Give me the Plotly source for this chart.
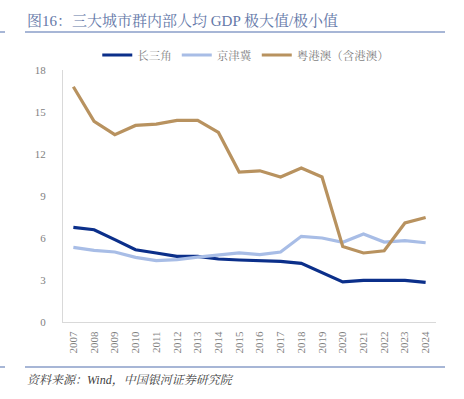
import plotly.graph_objects as go

years = [str(y) for y in range(2007, 2025)]
yrd = [6.76, 6.59, 5.88, 5.16, 4.93, 4.69, 4.69, 4.50, 4.43, 4.36, 4.33, 4.19, 3.55, 2.86, 2.97, 2.97, 2.97, 2.83]
jjj = [5.33, 5.12, 5.00, 4.62, 4.38, 4.45, 4.64, 4.81, 4.93, 4.81, 5.00, 6.12, 6.00, 5.69, 6.29, 5.71, 5.81, 5.66]
gba = [16.8, 14.33, 13.38, 14.04, 14.14, 14.40, 14.40, 13.54, 10.71, 10.80, 10.36, 11.00, 10.36, 5.40, 4.93, 5.09, 7.07, 7.47]
names = ["长三角", "京津冀", "粤港澳（含港澳）"]
colors = ["#0b2f8a", "#a8bde6", "#b8925f"]
y_ticks = [0, 3, 6, 9, 12, 15, 18]

W, H = 464, 399
L, R, T, B = 63, 436, 70, 322

def px(x):
    return (x - L) / (R - L)

def py(y):
    return (B - y) / (B - T)

fig = go.Figure()
for n, v, c in zip(names, [yrd, jjj, gba], colors):
    fig.add_trace(go.Scatter(x=years, y=v, name=n, mode="lines",
                             line=dict(color=c, width=3.2)))

cjk = "Liberation Serif, Noto Serif CJK SC, Noto Sans CJK SC, serif"

fig.update_layout(
    width=W, height=H,
    margin=dict(l=L, r=W - R, t=T, b=H - B, pad=0),
    paper_bgcolor="white", plot_bgcolor="white",
    font=dict(family=cjk, color="#7f7f7f", size=11),
    showlegend=True,
    legend=dict(orientation="h", x=0.49, y=py(55), xanchor="center", yanchor="middle",
                font=dict(size=11.5, color="#7f7f7f", family=cjk),
                itemwidth=30, tracegroupgap=0, bgcolor="rgba(0,0,0,0)"),
    xaxis=dict(type="category", range=[-0.5, len(years) - 0.5], showgrid=False,
               showline=True, linecolor="#d9d9d9", linewidth=1, tickangle=-90,
               ticks="", tickfont=dict(size=11, color="#7f7f7f", family=cjk),
               ticklabelstandoff=4, zeroline=False),
    yaxis=dict(range=[0, 18], tickvals=y_ticks, showgrid=False, showline=True,
               linecolor="#d9d9d9", linewidth=1, ticks="",
               tickfont=dict(size=11, color="#7f7f7f", family=cjk),
               ticklabelstandoff=14, zeroline=False),
)

fig.add_annotation(text="图16：三大城市群内部人均 GDP 极大值/极小值", xref="paper", yref="paper",
                   x=px(25), y=py(20), xanchor="left", yanchor="middle", showarrow=False,
                   font=dict(size=15, color="#6478a8", family=cjk))
fig.add_annotation(text="<i>资料来源：Wind，中国银河证券研究院</i>", xref="paper", yref="paper",
                   x=px(25), y=py(380), xanchor="left", yanchor="middle", showarrow=False,
                   font=dict(size=12, color="#404040", family=cjk))

for yy in [32, 367]:
    fig.add_shape(type="line", xref="paper", yref="paper", x0=px(25), x1=px(445),
                  y0=py(yy), y1=py(yy), line=dict(color="#a7b6d6", width=2))
    fig.add_shape(type="line", xref="paper", yref="paper", x0=px(0), x1=px(5),
                  y0=py(yy), y1=py(yy), line=dict(color="#a7b6d6", width=2))

fig.write_html("out.html", config={"displayModeBar": False},
               post_script="document.body.style.margin='0';document.body.style.padding='0';")
